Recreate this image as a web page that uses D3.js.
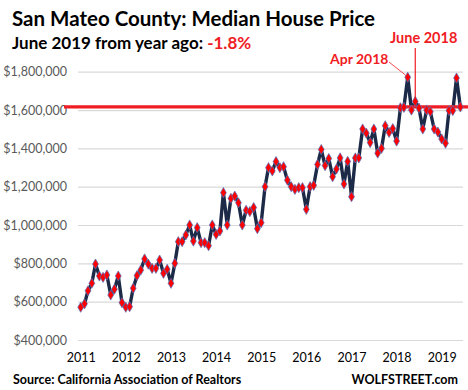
<!DOCTYPE html>
<html>
<head>
<meta charset="utf-8">
<script src="https://cdn.jsdelivr.net/npm/d3@7"></script>
<style>
  body { margin: 0; background: #fff; }
  svg { display: block; font-family: Lato, "Open Sans", sans-serif; }
</style>
</head>
<body>
<svg width="468" height="390"></svg>
<script>
// monthly median price, Jan 2011 .. Jun 2019 (thousands of $)
var startMonth = '2011-01';
var prices = [
  571, 589, 657, 696, 796, 734, 727, 739, 635, 665, 734, 595,
  571, 574, 670, 736, 765, 823, 796, 774, 774, 817, 748, 769,
  696, 800, 913, 913, 948, 1000, 916, 986, 908, 908, 892, 1000,
  951, 969, 1169, 1000, 1139, 1151, 1116, 1000, 1077, 1070, 1091, 981,
  1012, 1200, 1299, 1282, 1331, 1299, 1304, 1234, 1200, 1186, 1195, 1195,
  1082, 1200, 1207, 1316, 1394, 1310, 1347, 1252, 1292, 1350, 1214, 1332,
  1148, 1350, 1350, 1501, 1479, 1430, 1501, 1375, 1400, 1518, 1483, 1503,
  1438, 1612, 1614, 1771, 1600, 1645, 1610, 1501, 1600, 1591, 1501, 1485,
  1449, 1427, 1597, 1597, 1767, 1616
];
var yTicks = [400000, 600000, 800000, 1000000, 1200000, 1400000, 1600000, 1800000];
var yearTicks = [2011, 2012, 2013, 2014, 2015, 2016, 2017, 2018, 2019];
var callouts = [
  { label: 'Apr 2018', month: '2018-04' },
  { label: 'June 2018', month: '2018-06' }
];

var red = '#f01c24';
var parseMonth = d3.timeParse('%Y-%m');
var start = parseMonth(startMonth);
var data = prices.map(function(p, i){ return { date: d3.timeMonth.offset(start, i), value: p * 1000 }; });

var svg = d3.select('svg');

var x = d3.scaleTime().domain([new Date(2011, 0, 1), new Date(2019, 0, 1)]).range([80.7, 441.7]);
var y = d3.scaleLinear().domain([400000, 1800000]).range([340, 71.7]);

// Titles
svg.append('text').attr('x', 12).attr('y', 26)
  .style('font-size', '20.5px').style('font-weight', 'bold').style('fill', '#000')
  .text('San Mateo County: Median House Price');
var sub = svg.append('text').attr('x', 12).attr('y', 49)
  .style('font-size', '17px').style('font-weight', 'bold').style('fill', '#000');
sub.append('tspan').text('June 2019 from year ago: ');
sub.append('tspan').style('fill', red).text('-1.8%');

// Y axis with gridlines
var yAxis = svg.append('g').attr('transform', 'translate(78,0)')
  .call(d3.axisLeft(y).tickValues(yTicks).tickSize(-385).tickPadding(11)
    .tickFormat(function(d){ return '$' + d3.format(',')(d); }));
yAxis.select('.domain').remove();
yAxis.selectAll('.tick line').attr('stroke', '#d9d9d9').attr('stroke-width', 1.2);
yAxis.selectAll('.tick text').style('font-size', '12.5px').style('fill', '#595959').style('font-family', 'Lato, sans-serif');

// X axis
var xAxis = svg.append('g').attr('transform', 'translate(0,340)')
  .call(d3.axisBottom(x).tickValues(yearTicks.map(function(yr){ return new Date(yr, 0, 1); }))
    .tickSize(0).tickFormat(d3.timeFormat('%Y')));
xAxis.select('.domain').remove();
xAxis.selectAll('.tick text').attr('y', 22).attr('dy', 0)
  .style('font-size', '12.5px').style('fill', '#000').style('font-family', 'Lato, sans-serif');

// Data line
var line = d3.line().x(function(d){ return x(d.date); }).y(function(d){ return y(d.value); });
svg.append('path').datum(data).attr('d', line)
  .style('fill', 'none').style('stroke', '#1c2a47').style('stroke-width', 3.4).style('stroke-linejoin', 'round');

// Reference line at latest value
var last = data[data.length - 1];
svg.append('line').attr('x1', 64).attr('x2', 468).attr('y1', y(last.value)).attr('y2', y(last.value))
  .style('stroke', red).style('stroke-width', 3.2);

// Markers
svg.append('g').selectAll('path').data(data).enter().append('path')
  .attr('transform', function(d){ return 'translate(' + x(d.date) + ',' + y(d.value) + ')'; })
  .attr('d', d3.symbol().type(d3.symbolDiamond).size(30))
  .style('fill', '#ff0000').style('stroke', '#4f74c0').style('stroke-width', 0.7);

// Callouts
var byMonth = function(m){ var t = parseMonth(m).getTime(); return data.find(function(d){ return d.date.getTime() === t; }); };
var apr = byMonth(callouts[0].month), jun = byMonth(callouts[1].month);
svg.append('text').attr('x', 330).attr('y', 64)
  .style('font-size', '14px').style('font-weight', 'bold').style('fill', red).text(callouts[0].label);
svg.append('line').attr('x1', 389).attr('y1', 62).attr('x2', x(apr.date) - 2).attr('y2', y(apr.value) - 2)
  .style('stroke', red).style('stroke-width', 0.8);
svg.append('text').attr('x', 390).attr('y', 43)
  .style('font-size', '14.5px').style('font-weight', 'bold').style('fill', red).text(callouts[1].label);
svg.append('line').attr('x1', x(jun.date)).attr('y1', 48).attr('x2', x(jun.date)).attr('y2', y(jun.value) - 3)
  .style('stroke', red).style('stroke-width', 1.2);

// Footer
svg.append('text').attr('x', 13).attr('y', 384)
  .style('font-size', '12.5px').style('font-weight', 'bold').style('fill', '#000')
  .text('Source: California Association of Realtors');
svg.append('text').attr('x', 458).attr('y', 384).attr('text-anchor', 'end')
  .style('font-size', '12.5px').style('font-weight', 'bold').style('fill', '#000')
  .text('WOLFSTREET.com');
</script>
</body>
</html>
